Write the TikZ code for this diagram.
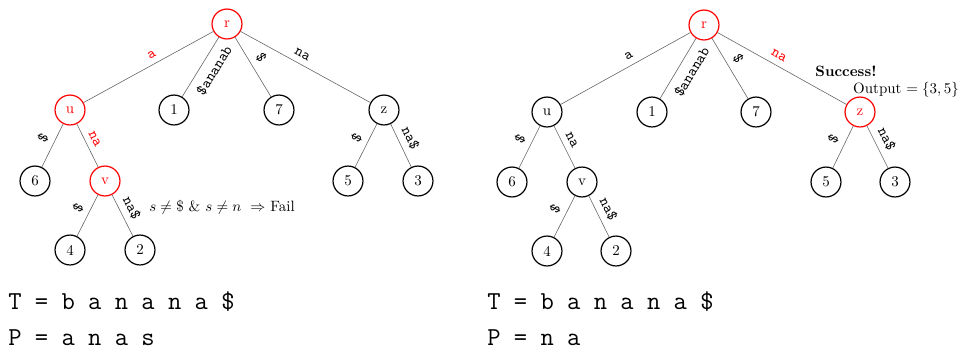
\documentclass[tikz,border=0pt]{standalone}
\usepackage{amsmath}
\usepackage{tikz}

\begin{document}
\begin{tikzpicture}[x=0.0235cm,y=-0.0235cm,
  vert/.style={circle,draw,thick,minimum size=20pt,inner sep=0pt},
  hot/.style={vert,draw=red,text=red},
  edge/.style={draw=black!60,line width=0.4pt},
  lab/.style={sloped,pos=0.44,inner sep=2pt,font=\ttfamily},
  word/.style={anchor=west,inner sep=0pt,font=\LARGE\ttfamily}]
\useasboundingbox (0,0) rectangle (959,352);
% left tree: search for P = anas
\path (227, 24) node[hot]  (r)      {r};
\path ( 70,110) node[hot]  (u)      {u};
\path (174,110) node[vert] (one)    {1};
\path (279,110) node[vert] (seven)  {7};
\path (384,110) node[vert] (z)      {z};
\path ( 35,181) node[vert] (six)    {6};
\path (105,181) node[hot]  (v)      {v};
\path (348,181) node[vert] (five)   {5};
\path (418,181) node[vert] (three)  {3};
\path ( 70,250) node[vert] (four)   {4};
\path (140,250) node[vert] (two)    {2};
\draw [edge] (r) -- node[lab,above=2pt,red] {a} (u);
\draw [edge] (r) -- node[lab,below=3pt] {\$ananab} (one);
\draw [edge] (r) -- node[lab,above=2pt] {\$} (seven);
\draw [edge] (r) -- node[lab,above=2pt] {na} (z);
\draw [edge] (u) -- node[lab,above=2pt] {\$} (six);
\draw [edge] (u) -- node[lab,above=2pt,red] {na} (v);
\draw [edge] (v) -- node[lab,above=2pt] {\$} (four);
\draw [edge] (v) -- node[lab,above=2pt] {na\$} (two);
\draw [edge] (z) -- node[lab,above=2pt] {\$} (five);
\draw [edge] (z) -- node[lab,above=2pt] {na\$} (three);
\path (222,207) node (fail) {$s \neq \$ \ \&\ s \neq n \ \Rightarrow$ Fail};
% right tree: search for P = na
\path (704, 25) node[hot]  (rr)     {r};
\path (547,112) node[vert] (uu)     {u};
\path (652,112) node[vert] (onee)   {1};
\path (756,112) node[vert] (sevenn) {7};
\path (860,112) node[hot]  (zz)     {z};
\path (512,182) node[vert] (sixx)   {6};
\path (582,182) node[vert] (vv)     {v};
\path (826,182) node[vert] (fivee)  {5};
\path (895,182) node[vert] (threee) {3};
\path (547,251) node[vert] (fourr)  {4};
\path (616,251) node[vert] (twoo)   {2};
\draw [edge] (rr) -- node[lab,above=2pt] {a} (uu);
\draw [edge] (rr) -- node[lab,below=3pt] {\$ananab} (onee);
\draw [edge] (rr) -- node[lab,above=2pt] {\$} (sevenn);
\draw [edge] (rr) -- node[lab,above=2pt,red] {na} (zz);
\draw [edge] (uu) -- node[lab,above=2pt] {\$} (sixx);
\draw [edge] (uu) -- node[lab,above=2pt] {na} (vv);
\draw [edge] (vv) -- node[lab,above=2pt] {\$} (fourr);
\draw [edge] (vv) -- node[lab,above=2pt] {na\$} (twoo);
\draw [edge] (zz) -- node[lab,above=2pt] {\$} (fivee);
\draw [edge] (zz) -- node[lab,above=2pt] {na\$} (threee);
\path (846, 71) node (success) {\textbf{Success!}};
\path (906, 90) node (output)  {Output $=\{3,5\}$};
% text and pattern
\path (  8,302) node[word] (textl) {T = b a n a n a \$};
\path (  8,338) node[word] (patl)  {P = a n a s};
\path (487,302) node[word] (textr) {T = b a n a n a \$};
\path (487,338) node[word] (patr)  {P = n a};
\end{tikzpicture}
\end{document}
